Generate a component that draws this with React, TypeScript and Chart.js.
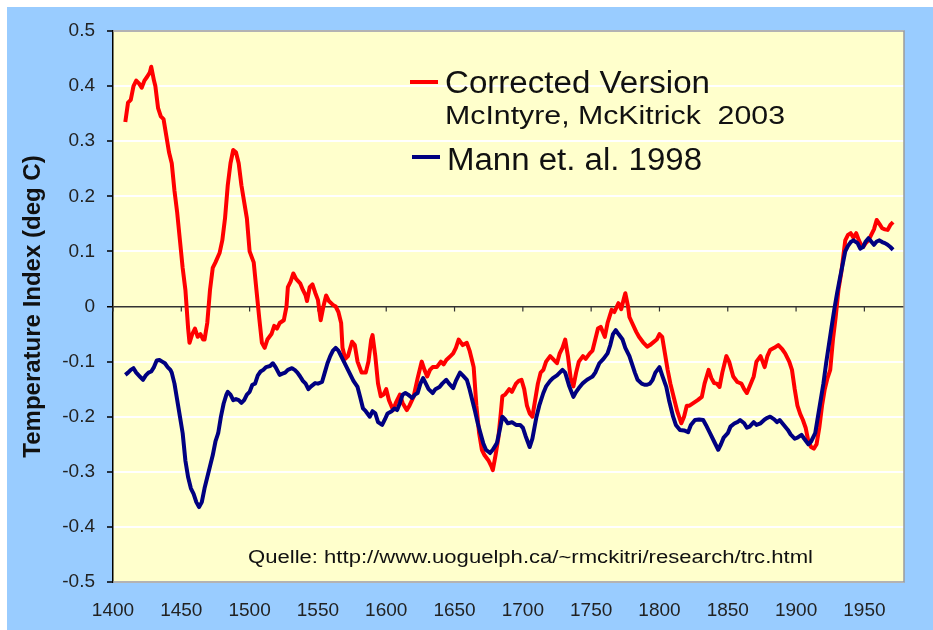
import React, { useEffect, useRef } from "react";
import { Chart, registerables } from "chart.js";

Chart.register(...registerables);

// Corrected Version (McIntyre, McKitrick 2003) — red
const correctedYears = [
  1409, 1411, 1413, 1415, 1417, 1419, 1421, 1423, 1425, 1427, 1428, 1430, 1431, 1433, 1435, 1437, 1439, 1441, 1443, 1445,
  1447, 1449, 1451, 1453, 1455, 1456, 1458, 1460, 1462, 1464, 1466, 1467, 1469, 1471, 1473, 1475, 1478, 1480, 1482, 1484,
  1486, 1488, 1490, 1492, 1494, 1496, 1498, 1500, 1503, 1505, 1507, 1509, 1511, 1513, 1516, 1518, 1520, 1522, 1525, 1527,
  1528, 1530, 1532, 1534, 1537, 1539, 1541, 1542, 1544, 1546, 1548, 1550, 1552, 1554, 1556, 1558, 1561, 1563, 1565, 1567,
  1568, 1570, 1572, 1575, 1577, 1579, 1582, 1585, 1587, 1589, 1590, 1592, 1594, 1596, 1598, 1600, 1602, 1605, 1607, 1610,
  1612, 1615, 1617, 1620, 1623, 1626, 1628, 1630, 1632, 1634, 1637, 1640, 1642, 1644, 1647, 1649, 1651, 1653, 1656, 1659,
  1661, 1663, 1664, 1666, 1668, 1670, 1672, 1675, 1677, 1678, 1680, 1682, 1684, 1685, 1687, 1690, 1692, 1695, 1697, 1699,
  1701, 1703, 1705, 1707, 1709, 1711, 1713, 1715, 1717, 1720, 1722, 1725, 1727, 1729, 1731, 1733, 1735, 1737, 1739, 1741,
  1744, 1746, 1749, 1751, 1753, 1755, 1757, 1760, 1762, 1765, 1767, 1770, 1772, 1774, 1775, 1777, 1778, 1780, 1783, 1785,
  1788, 1791, 1793, 1795, 1798, 1800, 1802, 1804, 1806, 1808, 1811, 1813, 1816, 1818, 1820, 1822, 1825, 1828, 1831, 1833,
  1836, 1838, 1840, 1842, 1844, 1846, 1849, 1851, 1854, 1857, 1860, 1862, 1864, 1866, 1869, 1871, 1874, 1877, 1879, 1881,
  1884, 1887, 1890, 1892, 1895, 1897, 1899, 1901, 1903, 1905, 1907, 1909, 1911, 1913, 1915, 1917, 1919, 1921, 1923, 1925,
  1927, 1929, 1931, 1933, 1935, 1936, 1938, 1940, 1942, 1944, 1946, 1948, 1949, 1951, 1953, 1955, 1957, 1959, 1961, 1963,
  1965, 1967, 1969, 1971,
];
const correctedValues = [
  0.335, 0.37, 0.375, 0.4, 0.41, 0.405, 0.397, 0.41, 0.417, 0.425, 0.435, 0.41, 0.4, 0.36, 0.345, 0.34, 0.31, 0.28, 0.26, 0.21,
  0.17, 0.12, 0.07, 0.03, -0.04, -0.066, -0.05, -0.04, -0.055, -0.05, -0.06, -0.06, -0.03, 0.03, 0.07, 0.08, 0.097, 0.12, 0.16, 0.22,
  0.26, 0.284, 0.28, 0.26, 0.22, 0.19, 0.16, 0.1, 0.08, 0.03, -0.02, -0.066, -0.075, -0.06, -0.05, -0.035, -0.04, -0.03, -0.025, 0.0,
  0.035, 0.045, 0.06, 0.05, 0.042, 0.03, 0.02, 0.01, 0.035, 0.04, 0.025, 0.012, -0.025, 0.0, 0.02, 0.01, 0.003, 0.0, -0.01, -0.03,
  -0.075, -0.095, -0.09, -0.064, -0.07, -0.1, -0.12, -0.12, -0.1, -0.06, -0.052, -0.09, -0.14, -0.163, -0.16, -0.15, -0.17, -0.188, -0.175, -0.16,
  -0.175, -0.188, -0.18, -0.164, -0.13, -0.1, -0.115, -0.127, -0.115, -0.11, -0.11, -0.1, -0.105, -0.097, -0.09, -0.085, -0.075, -0.06, -0.07, -0.066,
  -0.08, -0.1, -0.11, -0.18, -0.23, -0.26, -0.27, -0.28, -0.29, -0.297, -0.27, -0.24, -0.19, -0.163, -0.16, -0.15, -0.155, -0.14, -0.135, -0.133,
  -0.15, -0.18, -0.194, -0.2, -0.17, -0.14, -0.12, -0.115, -0.1, -0.09, -0.095, -0.103, -0.085, -0.075, -0.06, -0.09, -0.13, -0.145, -0.12, -0.1,
  -0.09, -0.095, -0.085, -0.08, -0.06, -0.04, -0.037, -0.055, -0.03, -0.006, -0.01, 0.006, -0.005, 0.015, 0.024, 0.0, -0.019, -0.03, -0.046, -0.055,
  -0.065, -0.073, -0.07, -0.066, -0.06, -0.05, -0.055, -0.085, -0.115, -0.14, -0.17, -0.19, -0.212, -0.2, -0.18, -0.18, -0.175, -0.17, -0.164, -0.14,
  -0.115, -0.13, -0.139, -0.14, -0.146, -0.12, -0.09, -0.1, -0.127, -0.137, -0.14, -0.15, -0.157, -0.145, -0.127, -0.1, -0.09, -0.11, -0.09, -0.079,
  -0.075, -0.07, -0.078, -0.085, -0.1, -0.115, -0.15, -0.18, -0.195, -0.206, -0.22, -0.245, -0.255, -0.258, -0.25, -0.22, -0.18, -0.15, -0.13, -0.115,
  -0.06, -0.019, 0.03, 0.06, 0.1, 0.12, 0.13, 0.133, 0.125, 0.133, 0.12, 0.11, 0.108, 0.115, 0.12, 0.13, 0.14, 0.157, 0.15, 0.142,
  0.14, 0.139, 0.148, 0.153,
];

// Mann et. al. 1998 — navy
const mannYears = [
  1409, 1411, 1413, 1415, 1417, 1420, 1422, 1424, 1426, 1428, 1430, 1432, 1434, 1436, 1438, 1440, 1442, 1443, 1445, 1447,
  1449, 1451, 1453, 1455, 1457, 1459, 1461, 1463, 1465, 1467, 1469, 1471, 1473, 1475, 1477, 1479, 1481, 1483, 1484, 1486,
  1488, 1490, 1492, 1494, 1496, 1498, 1500, 1502, 1504, 1506, 1508, 1510, 1512, 1515, 1517, 1519, 1522, 1524, 1526, 1528,
  1531, 1533, 1535, 1537, 1539, 1541, 1543, 1545, 1548, 1550, 1553, 1555, 1557, 1559, 1561, 1563, 1565, 1567, 1569, 1572,
  1574, 1576, 1579, 1581, 1583, 1585, 1588, 1590, 1592, 1594, 1597, 1599, 1601, 1604, 1606, 1608, 1610, 1612, 1614, 1616,
  1619, 1621, 1623, 1625, 1627, 1629, 1631, 1634, 1636, 1639, 1641, 1644, 1646, 1649, 1651, 1654, 1656, 1659, 1661, 1663,
  1665, 1667, 1669, 1671, 1673, 1676, 1678, 1681, 1683, 1685, 1687, 1689, 1692, 1695, 1698, 1700, 1702, 1705, 1707, 1710,
  1712, 1715, 1717, 1720, 1722, 1725, 1727, 1729, 1731, 1734, 1737, 1739, 1741, 1744, 1747, 1749, 1751, 1753, 1756, 1759,
  1762, 1764, 1766, 1768, 1770, 1773, 1775, 1778, 1780, 1782, 1784, 1787, 1789, 1791, 1793, 1795, 1797, 1800, 1802, 1805,
  1807, 1810, 1812, 1815, 1818, 1821, 1823, 1826, 1829, 1832, 1834, 1837, 1840, 1843, 1845, 1847, 1850, 1852, 1855, 1857,
  1859, 1862, 1864, 1866, 1869, 1871, 1874, 1877, 1879, 1881, 1884, 1886, 1888, 1891, 1894, 1896, 1899, 1901, 1904, 1906,
  1909, 1911, 1914, 1916, 1918, 1920, 1922, 1924, 1926, 1928, 1930, 1932, 1934, 1936, 1938, 1940, 1942, 1945, 1947, 1949,
  1951, 1953, 1955, 1957, 1959, 1961, 1963, 1965, 1967, 1969, 1971,
];
const mannValues = [
  -0.124, -0.12, -0.115, -0.112, -0.12, -0.128, -0.133, -0.125, -0.12, -0.118, -0.11, -0.098, -0.097, -0.1, -0.103, -0.11, -0.115, -0.12, -0.14, -0.17,
  -0.2, -0.23, -0.28, -0.31, -0.33, -0.34, -0.355, -0.364, -0.355, -0.33, -0.31, -0.29, -0.27, -0.245, -0.23, -0.2, -0.176, -0.16, -0.155, -0.16,
  -0.17, -0.168, -0.17, -0.175, -0.17, -0.16, -0.155, -0.142, -0.14, -0.125, -0.118, -0.115, -0.11, -0.108, -0.103, -0.11, -0.124, -0.122, -0.12, -0.115,
  -0.112, -0.115, -0.12, -0.127, -0.135, -0.14, -0.15, -0.145, -0.139, -0.14, -0.137, -0.12, -0.103, -0.09, -0.08, -0.075, -0.08, -0.09, -0.1, -0.115,
  -0.125, -0.135, -0.146, -0.165, -0.185, -0.19, -0.2, -0.19, -0.194, -0.21, -0.215, -0.205, -0.194, -0.19, -0.185, -0.188, -0.175, -0.16, -0.157, -0.16,
  -0.166, -0.16, -0.157, -0.14, -0.13, -0.14, -0.15, -0.157, -0.15, -0.146, -0.14, -0.133, -0.14, -0.148, -0.135, -0.12, -0.125, -0.133, -0.15, -0.17,
  -0.19, -0.212, -0.23, -0.248, -0.26, -0.266, -0.26, -0.248, -0.225, -0.2, -0.205, -0.212, -0.21, -0.215, -0.215, -0.22, -0.235, -0.255, -0.24, -0.2,
  -0.18, -0.157, -0.145, -0.135, -0.13, -0.125, -0.12, -0.115, -0.12, -0.145, -0.164, -0.155, -0.148, -0.139, -0.133, -0.13, -0.127, -0.12, -0.103, -0.095,
  -0.085, -0.07, -0.05, -0.043, -0.05, -0.06, -0.075, -0.09, -0.105, -0.12, -0.133, -0.14, -0.142, -0.142, -0.14, -0.133, -0.12, -0.11, -0.125, -0.146,
  -0.17, -0.2, -0.215, -0.224, -0.225, -0.228, -0.215, -0.206, -0.205, -0.206, -0.215, -0.23, -0.245, -0.26, -0.25, -0.238, -0.23, -0.218, -0.212, -0.21,
  -0.206, -0.212, -0.22, -0.218, -0.21, -0.215, -0.212, -0.205, -0.202, -0.2, -0.205, -0.21, -0.206, -0.215, -0.224, -0.232, -0.24, -0.238, -0.233, -0.24,
  -0.25, -0.245, -0.23, -0.2, -0.17, -0.14, -0.103, -0.07, -0.037, -0.005, 0.024, 0.05, 0.075, 0.1, 0.11, 0.117, 0.12, 0.115, 0.105, 0.108,
  0.118, 0.124, 0.118, 0.112, 0.118, 0.12, 0.117, 0.115, 0.112, 0.108, 0.103,
];

const xTickStep = 50;
const legendTitle = "Corrected Version";
const legendSubtitle = "McIntyre, McKitrick  2003";
const legendMann = "Mann et. al. 1998";
const sourceText = "Quelle: http://www.uoguelph.ca/~rmckitri/research/trc.html";
const yAxisTitle = "Temperature Index (deg C)";

const FONT = "'Liberation Sans', Arial, Helvetica, sans-serif";
const RED = "#FF0000";
const NAVY = "#000080";

function drawFitText(ctx: CanvasRenderingContext2D, text: string, x: number, y: number, font: string, width: number) {
  ctx.save();
  ctx.font = font;
  const w = ctx.measureText(text).width;
  ctx.translate(x, y);
  ctx.scale(width / w, 1);
  ctx.textAlign = "left";
  ctx.textBaseline = "alphabetic";
  ctx.fillStyle = "#111111";
  ctx.fillText(text, 0, 0);
  ctx.restore();
}

const decorPlugin = {
  id: "decor",
  beforeDraw(chart: any) {
    const { ctx, chartArea: a } = chart;
    ctx.save();
    ctx.fillStyle = "#99CCFF";
    ctx.fillRect(0, 0, chart.width, chart.height);
    ctx.fillStyle = "#FFFFCC";
    ctx.fillRect(a.left, a.top, a.right - a.left, a.bottom - a.top);
    ctx.restore();
  },
  beforeDatasetsDraw(chart: any) {
    const { ctx, chartArea: a, scales } = chart;
    const x = scales.x;
    const y = scales.y;
    const zeroY = y.getPixelForValue(0);
    ctx.save();
    ctx.strokeStyle = "#9a9a9a";
    ctx.lineWidth = 1.5;
    ctx.beginPath();
    ctx.moveTo(a.left, a.top);
    ctx.lineTo(a.right, a.top);
    ctx.lineTo(a.right, a.bottom);
    ctx.lineTo(a.left, a.bottom);
    ctx.stroke();
    ctx.strokeStyle = "#333333";
    ctx.lineWidth = 1.2;
    x.ticks.forEach((t: any) => {
      const px = x.getPixelForValue(t.value);
      ctx.beginPath();
      ctx.moveTo(px, zeroY);
      ctx.lineTo(px, zeroY + 5);
      ctx.stroke();
    });
    ctx.restore();
  },
  afterDraw(chart: any) {
    const { ctx } = chart;
    ctx.save();
    ctx.lineCap = "butt";
    ctx.lineWidth = 4;
    ctx.strokeStyle = RED;
    ctx.beginPath();
    ctx.moveTo(403, 75);
    ctx.lineTo(431, 75);
    ctx.stroke();
    ctx.strokeStyle = NAVY;
    ctx.beginPath();
    ctx.moveTo(405, 150);
    ctx.lineTo(433, 150);
    ctx.stroke();
    ctx.restore();
    drawFitText(ctx, legendTitle, 438, 86, `31px ${FONT}`, 265);
    drawFitText(ctx, legendSubtitle, 438, 117, `26px ${FONT}`, 340);
    drawFitText(ctx, legendMann, 440, 163, `31px ${FONT}`, 255);
    drawFitText(ctx, sourceText, 241, 556, `18px ${FONT}`, 565);
  },
};

export default function App() {
  const canvasRef = useRef<HTMLCanvasElement | null>(null);

  useEffect(() => {
    if (!canvasRef.current) return;
    Chart.defaults.font.family = FONT;
    const chart = new Chart(canvasRef.current, {
      type: "line",
      data: {
        datasets: [
          {
            label: legendMann,
            data: mannYears.map((yr, i) => ({ x: yr, y: mannValues[i] })),
            borderColor: NAVY,
            backgroundColor: NAVY,
            borderWidth: 4,
            pointRadius: 0,
            tension: 0,
            borderJoinStyle: "round",
            order: 0,
          },
          {
            label: legendTitle,
            data: correctedYears.map((yr, i) => ({ x: yr, y: correctedValues[i] })),
            borderColor: RED,
            backgroundColor: RED,
            borderWidth: 4,
            pointRadius: 0,
            tension: 0,
            borderJoinStyle: "round",
            order: 1,
          },
        ],
      },
      options: {
        responsive: false,
        animation: false,
        events: [],
        layout: { padding: { top: 24, right: 29, left: 0, bottom: 0 } },
        plugins: {
          legend: { display: false },
          tooltip: { enabled: false },
        },
        scales: {
          x: {
            type: "linear",
            position: "bottom",
            min: 1400,
            max: 1979,
            bounds: "data",
            grid: { display: false, drawTicks: false },
            border: { display: false },
            ticks: {
              stepSize: xTickStep,
              includeBounds: false,
              autoSkip: false,
              maxRotation: 0,
              padding: 17,
              color: "#222222",
              font: { size: 19 },
              callback: (v: any) => String(v),
            },
            afterBuildTicks: (s: any) => {
              s.ticks = s.ticks.filter((t: any) => t.value % xTickStep === 0);
            },
            afterFit: (s: any) => {
              s.height = 48;
              s.paddingRight = 0;
            },
          },
          y: {
            type: "linear",
            min: -0.5,
            max: 0.5,
            grid: {
              color: (c: any) => (c.tick && Math.abs(c.tick.value) < 1e-9 ? "#333333" : "#FFFFFF"),
              lineWidth: (c: any) => (c.tick && Math.abs(c.tick.value) < 1e-9 ? 1.5 : 2),
              tickColor: "#000000",
              tickLength: 6,
              tickWidth: 1.5,
            },
            border: { display: true, color: "#000000", width: 1.5 },
            ticks: {
              stepSize: 0.1,
              padding: 12,
              color: "#222222",
              font: { size: 19 },
              callback: (v: any) => {
                const n = Number(Number(v).toFixed(1));
                return (n === 0 ? 0 : n).toString();
              },
            },
            title: {
              display: true,
              text: yAxisTitle,
              color: "#111111",
              font: { size: 24, weight: "bold" },
              padding: { top: 12, bottom: 0 },
            },
            afterFit: (s: any) => {
              s.width = 106;
            },
          },
        },
      },
      plugins: [decorPlugin],
    } as any);
    return () => chart.destroy();
  }, []);

  return (
    <div style={{ position: "fixed", left: 7, top: 7, width: 926, height: 623, background: "#99CCFF" }}>
      <canvas ref={canvasRef} width={926} height={623} style={{ display: "block", width: 926, height: 623 }} />
    </div>
  );
}
